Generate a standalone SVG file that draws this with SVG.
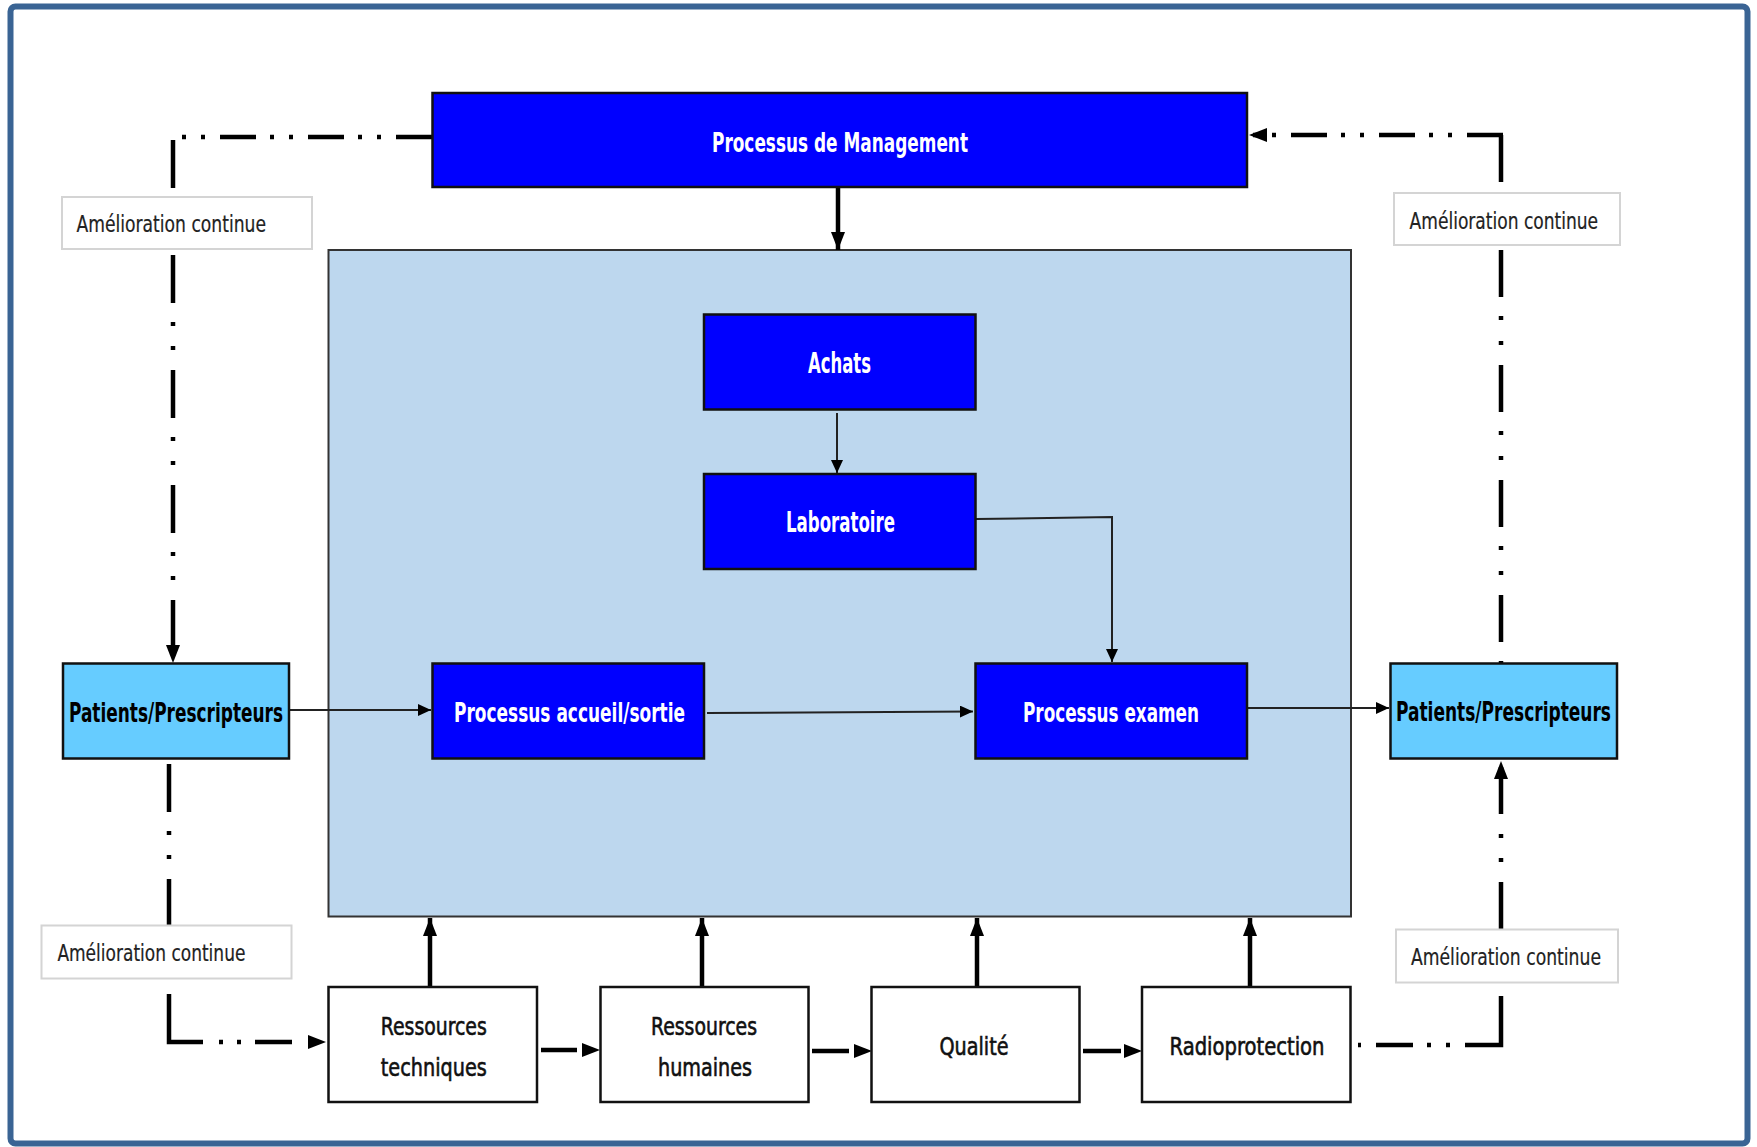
<svg xmlns="http://www.w3.org/2000/svg" width="1757" height="1147" viewBox="0 0 1757 1147">
<style>
.frame{fill:#fff;stroke:#3A6494;stroke-width:6}
.area{fill:#BDD7EE;stroke:#333;stroke-width:2}
.blue{fill:#0000FF;stroke:#111;stroke-width:2.5}
.cyan{fill:#66CCFF;stroke:#111;stroke-width:2.5}
.res{fill:#fff;stroke:#111;stroke-width:2.5}
.lbl{fill:#fff;stroke:#D4D4D4;stroke-width:2}
text{font-family:"Liberation Sans Narrow","DejaVu Sans Condensed","Liberation Sans",sans-serif}
.tw{fill:#fff;font-weight:bold;font-size:26px;text-anchor:middle}
.tb{fill:#000;font-weight:bold;font-size:26px;text-anchor:middle}
.tr{fill:#111;font-size:25px;text-anchor:middle;stroke:#111;stroke-width:0.6}
.tl{fill:#222;font-size:23px;stroke:#222;stroke-width:0.2}
.thin{fill:none;stroke:#222;stroke-width:2}
.thick{fill:none;stroke:#000;stroke-width:4.5}
.dh{stroke-dasharray:36 15 4 15 4 14}
.dv{stroke-dasharray:48 19 4 20 4 20}
</style>
<defs>
<marker id="ak" markerUnits="userSpaceOnUse" markerWidth="18" markerHeight="14" refX="18" refY="7" orient="auto" viewBox="0 0 18 14"><path d="M0,0 L18,7 L0,14 z" fill="#000"/></marker>
<marker id="at" markerUnits="userSpaceOnUse" markerWidth="13" markerHeight="12" refX="13" refY="6" orient="auto" viewBox="0 0 13 12"><path d="M0,0 L13,6 L0,12 z" fill="#000"/></marker>
</defs>
<rect class="frame" x="10.5" y="6.5" width="1737" height="1137" rx="5"/>
<g id="zone-processus"><rect class="area" x="328.5" y="250" width="1022.5" height="666.5"/></g>

<g id="connectors">
<!-- top-left feedback loop -->
<path class="thick dh" d="M432,137 H173"/>
<path class="thick dv" d="M173,140 V663" marker-end="url(#ak)"/>
<!-- top-right feedback loop -->
<path class="thick dh" d="M1503,135 H1249" marker-end="url(#ak)"/>
<path class="thick" style="stroke-dasharray:47 19 4 21 4 20" d="M1501,135 V663"/>
<!-- management to process area -->
<path class="thick" d="M838,187 V250" marker-end="url(#ak)"/>
<!-- bottom-left loop -->
<path class="thick dv" d="M169,764 V925"/>
<path class="thick" style="stroke-dasharray:82 16 4 14 4 14 37 100" d="M169,994 V1042 H326" marker-end="url(#ak)"/>
<!-- bottom-right loop -->
<path class="thick" style="stroke-dasharray:85 15 4 15 4 14 37 15 4 100" d="M1501,996 V1045 H1358"/>
<path class="thick" style="stroke-dasharray:47 20 4 20 4 20" d="M1501,929 V761" marker-end="url(#ak)"/>
<!-- resources chain -->
<path class="thick" style="stroke-dasharray:36 100" d="M541,1050 H600" marker-end="url(#ak)"/>
<path class="thick" style="stroke-dasharray:37 100" d="M812,1051 H872" marker-end="url(#ak)"/>
<path class="thick" style="stroke-dasharray:38 100" d="M1083,1051 H1142" marker-end="url(#ak)"/>
<!-- resources up to process area -->
<path class="thick" d="M430,987 V918" marker-end="url(#ak)"/>
<path class="thick" d="M702,987 V918" marker-end="url(#ak)"/>
<path class="thick" d="M977,987 V918" marker-end="url(#ak)"/>
<path class="thick" d="M1250,987 V918" marker-end="url(#ak)"/>
<!-- thin flows -->
<path class="thin" d="M837,413 V473" marker-end="url(#at)"/>
<path class="thin" d="M976,519 L1112,517 V662" marker-end="url(#at)"/>
<path class="thin" d="M289,710 H431" marker-end="url(#at)"/>
<path class="thin" d="M707,713 L973,711.5" marker-end="url(#at)"/>
<path class="thin" d="M1247,708 H1389" marker-end="url(#at)"/>
</g>

<g id="management"><rect class="blue" x="432.5" y="93" width="814.5" height="94"/>
<text class="tw" x="840" y="151.5" font-size="27" textLength="256" lengthAdjust="spacingAndGlyphs">Processus de Management</text></g>
<g id="achats"><rect class="blue" x="704" y="314.5" width="271.5" height="95"/>
<text class="tw" x="839.5" y="372.5" style="font-size:29px" textLength="63" lengthAdjust="spacingAndGlyphs">Achats</text></g>
<g id="laboratoire"><rect class="blue" x="704" y="474" width="271.5" height="95"/>
<text class="tw" x="840.5" y="531.5" style="font-size:28px" textLength="109" lengthAdjust="spacingAndGlyphs">Laboratoire</text></g>
<g id="accueil"><rect class="blue" x="432.5" y="663.5" width="271.5" height="95"/>
<text class="tw" x="569.5" y="722" textLength="231" lengthAdjust="spacingAndGlyphs">Processus accueil/sortie</text></g>
<g id="examen"><rect class="blue" x="975.5" y="663.5" width="271.5" height="95"/>
<text class="tw" x="1111" y="722" textLength="176" lengthAdjust="spacingAndGlyphs">Processus examen</text></g>
<g id="patients-left"><rect class="cyan" x="63" y="663.5" width="226" height="95"/>
<text class="tb" x="176" y="721.5" textLength="214" lengthAdjust="spacingAndGlyphs">Patients/Prescripteurs</text></g>
<g id="patients-right"><rect class="cyan" x="1390.5" y="663.5" width="226.5" height="95"/>
<text class="tb" x="1503.5" y="721" textLength="215" lengthAdjust="spacingAndGlyphs">Patients/Prescripteurs</text></g>

<g id="amelioration-tl"><rect class="lbl" x="62" y="197" width="250" height="52"/>
<text class="tl" x="76.5" y="231.5" textLength="189.5" lengthAdjust="spacingAndGlyphs">Amélioration continue</text></g>
<g id="amelioration-tr"><rect class="lbl" x="1394" y="193" width="226" height="52"/>
<text class="tl" x="1409.6" y="229" textLength="188.5" lengthAdjust="spacingAndGlyphs">Amélioration continue</text></g>
<g id="amelioration-bl"><rect class="lbl" x="41.5" y="925.5" width="250" height="53"/>
<text class="tl" x="57.4" y="961" textLength="188" lengthAdjust="spacingAndGlyphs">Amélioration continue</text></g>
<g id="amelioration-br"><rect class="lbl" x="1396" y="929.5" width="222" height="53"/>
<text class="tl" x="1411" y="965" textLength="190" lengthAdjust="spacingAndGlyphs">Amélioration continue</text></g>

<g id="ressources-techniques"><rect class="res" x="328.5" y="987" width="208.5" height="115"/>
<text class="tr" x="433.8" y="1034.5" textLength="106" lengthAdjust="spacingAndGlyphs">Ressources</text>
<text class="tr" x="433.8" y="1075.5" textLength="106" lengthAdjust="spacingAndGlyphs">techniques</text></g>
<g id="ressources-humaines"><rect class="res" x="600.5" y="987" width="208" height="115"/>
<text class="tr" x="704" y="1035" textLength="106" lengthAdjust="spacingAndGlyphs">Ressources</text>
<text class="tr" x="705" y="1075.7" textLength="94" lengthAdjust="spacingAndGlyphs">humaines</text></g>
<g id="qualite"><rect class="res" x="871.5" y="987" width="208" height="115"/>
<text class="tr" x="974" y="1055" textLength="69" lengthAdjust="spacingAndGlyphs">Qualité</text></g>
<g id="radioprotection"><rect class="res" x="1142" y="987" width="208.5" height="115"/>
<text class="tr" x="1247" y="1055" textLength="155" lengthAdjust="spacingAndGlyphs">Radioprotection</text></g>
</svg>
